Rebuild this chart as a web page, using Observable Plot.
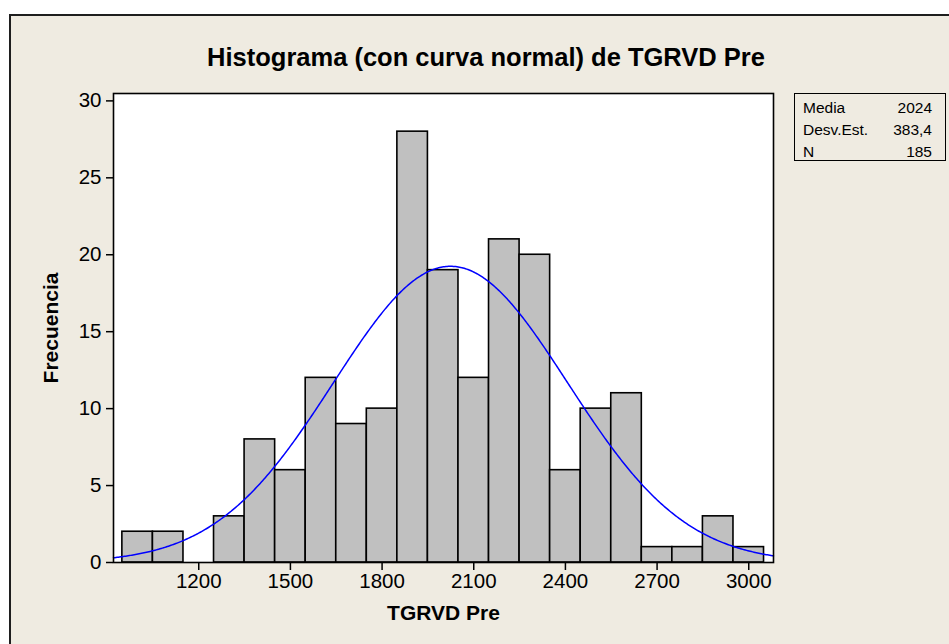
<!DOCTYPE html>
<html><head><meta charset="utf-8">
<script src="https://cdn.jsdelivr.net/npm/d3@7"></script>
<script src="https://cdn.jsdelivr.net/npm/@observablehq/plot@0.6"></script>
<style>
html,body{margin:0;padding:0;background:#fff;width:949px;height:644px;overflow:hidden;position:relative;}
#frame{position:absolute;left:9px;top:14px;width:980px;height:680px;background:#efebe1;border:2px solid #1e1e1e;box-sizing:border-box;}
#chart{position:absolute;left:0;top:0;}
#title{position:absolute;left:0;width:972px;top:43px;line-height:30px;text-align:center;font:bold 25.5px "Liberation Sans",sans-serif;color:#000;}
#legend{position:absolute;left:794px;top:93px;width:152px;height:68px;border:1px solid #000;box-sizing:border-box;font:15.5px "Liberation Sans",sans-serif;color:#000;}
#legend .row{position:absolute;left:8px;right:13px;height:20px;line-height:20px;}
#legend .row span.v{position:absolute;right:0;}
</style>
</head><body>
<div id="frame"></div>
<div id="chart"></div>
<div id="title">Histograma (con curva normal) de TGRVD Pre</div>
<div id="legend"></div>
<script>
// Data
const binCenters = [1000,1100,1200,1300,1400,1500,1600,1700,1800,1900,2000,2100,2200,2300,2400,2500,2600,2700,2800,2900,3000];
const counts     = [2,2,0,3,8,6,12,9,10,28,19,12,21,20,6,10,11,1,1,3,1];
const binWidth = 100;
const statLabels = ["Media","Desv.Est.","N"];
const statValues = ["2024","383,4","185"];
const mean = 2024, sd = 383.4, n = 185;
const xTicks = [1200,1500,1800,2100,2400,2700,3000];
const yTicks = [0,5,10,15,20,25,30];
const xDomain = [921, 3081];
const yDomain = [0, 30.48];

const bins = binCenters.map((c,i)=>({x1:c-binWidth/2, x2:c+binWidth/2, count:counts[i]}));
// fitted normal curve scaled to counts (from the displayed mean, sd, N)
const curve = d3.range(xDomain[0], xDomain[1]+1, 4).map(x=>({x, y: n*binWidth/(sd*Math.sqrt(2*Math.PI))*Math.exp(-0.5*((x-mean)/sd)**2)}));

const chart = Plot.plot({
  width: 949, height: 644,
  marginLeft: 113, marginRight: 176, marginTop: 93, marginBottom: 82,
  style: {background: "transparent", fontFamily: "Liberation Sans, sans-serif", fontSize: "20.5px", color: "#000"},
  x: {domain: xDomain, label: null},
  y: {domain: yDomain, label: null},
  marks: [
    Plot.frame({fill: "white", stroke: null}),
    Plot.rectY(bins, {x1: "x1", x2: "x2", y1: 0, y2: "count", fill: "#c0c0c0", stroke: "#000", strokeWidth: 1.6}),
    Plot.line(curve, {x: "x", y: "y", stroke: "#0000ff", strokeWidth: 1.5}),
    Plot.frame({stroke: "#000", strokeWidth: 1.6}),
    Plot.axisX({ticks: xTicks, tickSize: 8, tickPadding: 3, tickFormat: d=>String(d), fontSize: 20.5, label: null, stroke:"#000", strokeWidth:1.5}),
    Plot.axisY({ticks: yTicks, tickSize: 7, tickPadding: 5, fontSize: 20.5, label: null, stroke:"#000", strokeWidth:1.5}),
    Plot.text(["TGRVD Pre"], {frameAnchor: "bottom", dy: 57, fontWeight: "bold", fontSize: 21}),
    Plot.text(["Frecuencia"], {frameAnchor: "left", dx: -62, rotate: -90, textAnchor: "middle", fontWeight: "bold", fontSize: 21})
  ]
});
document.getElementById("chart").appendChild(chart);

const leg = document.getElementById("legend");
statLabels.forEach((l,i)=>{
  const r = document.createElement("div");
  r.className = "row";
  r.style.top = (4 + i*22) + "px";
  r.innerHTML = `<span>${l}</span><span class="v">${statValues[i]}</span>`;
  leg.appendChild(r);
});
</script>
</body></html>
